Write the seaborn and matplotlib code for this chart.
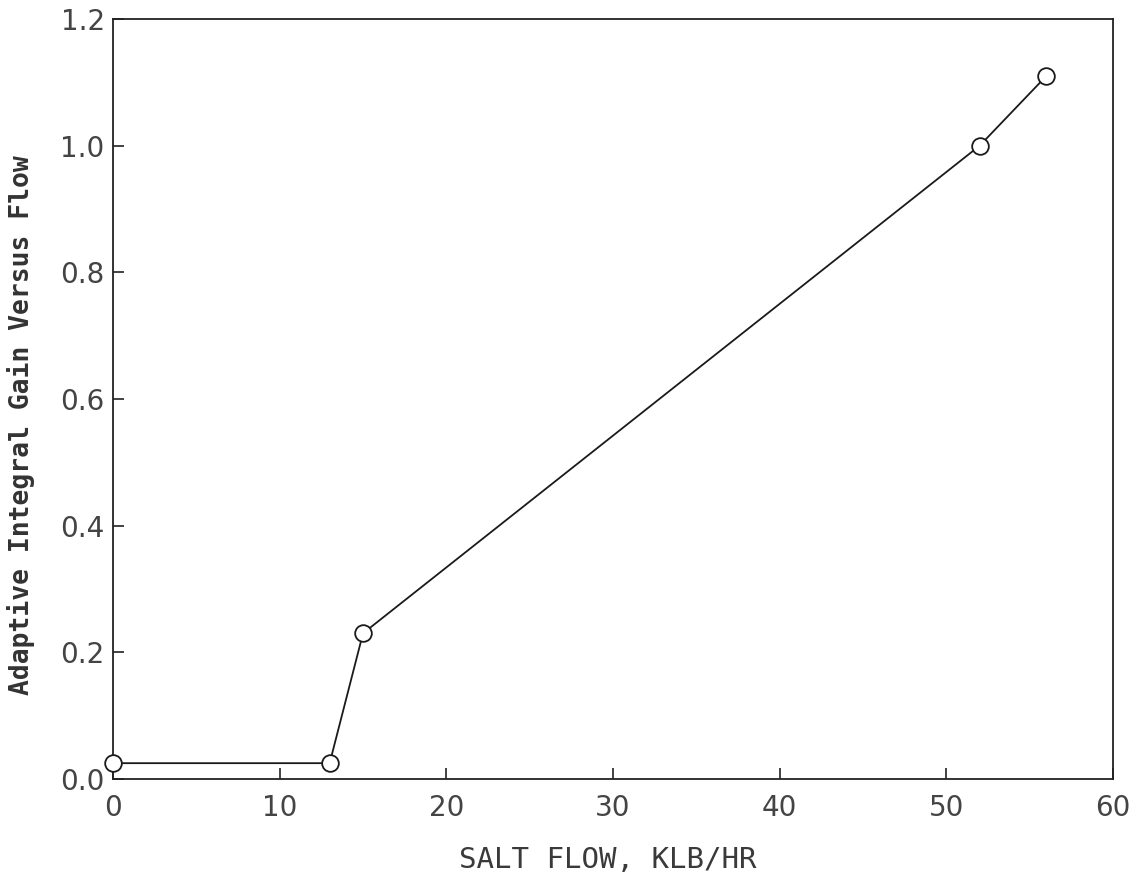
import numpy as np
import pandas as pd
import matplotlib
matplotlib.use("Agg")
import matplotlib.pyplot as plt
import seaborn as sns

salt_flow = [0, 13, 15, 52, 56]
gain = [0.025, 0.025, 0.23, 1.0, 1.11]
x_ticks = [0, 10, 20, 30, 40, 50, 60]
y_ticks = [0.0, 0.2, 0.4, 0.6, 0.8, 1.0, 1.2]

df = pd.DataFrame({"flow": salt_flow, "gain": gain})

sns.set_style("ticks")
plt.rcParams["font.family"] = ["DejaVu Sans"]

fig = plt.figure(figsize=(11.38, 8.75), dpi=100)
ax = fig.add_axes([113 / 1138, 1 - 779 / 875, 1000 / 1138, 760 / 875])

sns.lineplot(
    data=df, x="flow", y="gain",
    color="#1a1a1a", linewidth=1.3,
    marker="o", markersize=12,
    markerfacecolor="white", markeredgecolor="#1a1a1a", markeredgewidth=1.3,
    ax=ax, clip_on=False, zorder=3,
)

ax.set_xlim(0, 60)
ax.set_ylim(0, 1.2)
ax.set_xticks(x_ticks)
ax.set_yticks(y_ticks)
ax.set_yticklabels([f"{v:.1f}" for v in y_ticks])
ax.tick_params(direction="in", length=8, width=1.2, colors="#222222",
               labelsize=20, labelcolor="#444444")
ax.tick_params(axis="x", pad=11)
ax.tick_params(axis="y", pad=6)

for s in ax.spines.values():
    s.set_linewidth(1.3)
    s.set_color("#222222")

ax.set_xlabel("SALT FLOW, KLB/HR", fontsize=21, color="#3a3a3a",
              family="DejaVu Sans Mono")
ax.xaxis.set_label_coords(0.495, -0.088)
ax.set_ylabel("Adaptive Integral Gain Versus Flow", fontsize=19,
              family="DejaVu Sans Mono", fontweight="bold", color="#333333")
ax.yaxis.set_label_coords(-0.078, 0.466)

fig.savefig("out.png", dpi=100)
